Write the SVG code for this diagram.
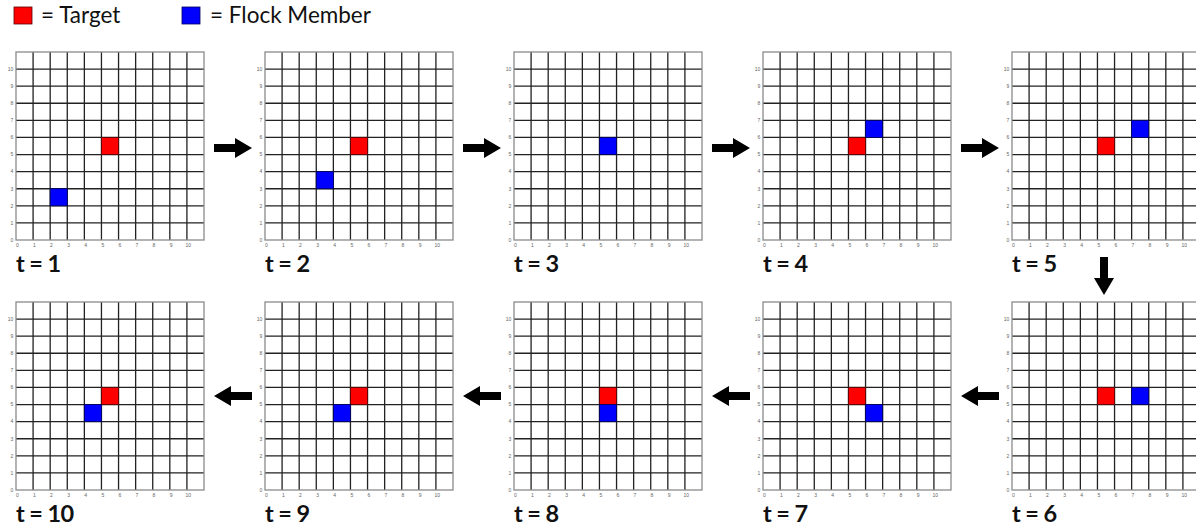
<svg xmlns="http://www.w3.org/2000/svg" xmlns:xlink="http://www.w3.org/1999/xlink" width="1196" height="526" viewBox="0 0 1196 526">
<style>
.inner{stroke:#222;stroke-width:1.3;fill:none}
.frame{stroke:#8a8a8a;stroke-width:1.3;fill:none}
.tick{font-family:"Liberation Sans",Arial,sans-serif;font-size:5px;fill:#666}
.ty{text-anchor:end}
.tx{text-anchor:middle}
.red{fill:#ff0000;stroke:#5a0000;stroke-width:0.8}
.blue{fill:#0000ff;stroke:#00005a;stroke-width:0.8}
.lbl{font-family:Lato,"Open Sans",sans-serif;font-weight:bold;font-size:23.5px;letter-spacing:-0.6px;fill:#111}
.leg{font-family:Lato,"Open Sans",sans-serif;font-size:22.5px;fill:#111}
.arrow{fill:#000}
</style>
<defs>
<g id="grid">
<rect x="0" y="0" width="188" height="188" fill="#fff"/>
<path class="inner" d="M17.09,0V188M34.18,0V188M51.27,0V188M68.36,0V188M85.45,0V188M102.55,0V188M119.64,0V188M136.73,0V188M153.82,0V188M170.91,0V188M0,17.09H188M0,34.18H188M0,51.27H188M0,68.36H188M0,85.45H188M0,102.55H188M0,119.64H188M0,136.73H188M0,153.82H188M0,170.91H188"/>
<rect class="frame" x="0" y="0" width="188" height="188"/>
<g class="tick ty">
<text x="-2.7" y="18.9">10</text><text x="-2.7" y="36">9</text><text x="-2.7" y="53.1">8</text><text x="-2.7" y="70.2">7</text><text x="-2.7" y="87.3">6</text><text x="-2.7" y="104.4">5</text><text x="-2.7" y="121.4">4</text><text x="-2.7" y="138.5">3</text><text x="-2.7" y="155.6">2</text><text x="-2.7" y="172.7">1</text><text x="-2.7" y="189.8">0</text>
</g>
<g class="tick tx">
<text x="1.3" y="194.5">0</text><text x="18.4" y="194.5">1</text><text x="35.5" y="194.5">2</text><text x="52.6" y="194.5">3</text><text x="69.7" y="194.5">4</text><text x="86.8" y="194.5">5</text><text x="103.9" y="194.5">6</text><text x="120.9" y="194.5">7</text><text x="138" y="194.5">8</text><text x="155.1" y="194.5">9</text><text x="172.2" y="194.5">10</text>
</g>
</g>
<path id="arrowR" d="M0,-4H21V-10L38,0L21,10V4H0Z"/>
</defs>
<rect width="1196" height="526" fill="#fff"/>
<g id="legend">
<rect class="red" x="14" y="7" width="18" height="17"/>
<text class="leg" x="41" y="22.5">= Target</text>
<rect class="blue" x="182" y="7" width="18" height="17"/>
<text class="leg" x="210" y="22.5">= Flock Member</text>
</g>
<g id="t1" transform="translate(16,52)">
<use xlink:href="#grid"/>
<rect class="red" x="85.45" y="85.45" width="17.09" height="17.09"/>
<rect class="blue" x="34.18" y="136.73" width="17.09" height="17.09"/>
<text class="lbl" x="0" y="220">t = 1</text>
</g>
<g id="t2" transform="translate(265,52)">
<use xlink:href="#grid"/>
<rect class="red" x="85.45" y="85.45" width="17.09" height="17.09"/>
<rect class="blue" x="51.27" y="119.64" width="17.09" height="17.09"/>
<text class="lbl" x="0" y="220">t = 2</text>
</g>
<g id="t3" transform="translate(514,52)">
<use xlink:href="#grid"/>
<rect class="blue" x="85.45" y="85.45" width="17.09" height="17.09"/>
<text class="lbl" x="0" y="220">t = 3</text>
</g>
<g id="t4" transform="translate(763,52)">
<use xlink:href="#grid"/>
<rect class="red" x="85.45" y="85.45" width="17.09" height="17.09"/>
<rect class="blue" x="102.55" y="68.36" width="17.09" height="17.09"/>
<text class="lbl" x="0" y="220">t = 4</text>
</g>
<g id="t5" transform="translate(1012,52)">
<use xlink:href="#grid"/>
<rect class="red" x="85.45" y="85.45" width="17.09" height="17.09"/>
<rect class="blue" x="119.64" y="68.36" width="17.09" height="17.09"/>
<text class="lbl" x="0" y="220">t = 5</text>
</g>
<g id="t6" transform="translate(1012,302)">
<use xlink:href="#grid"/>
<rect class="red" x="85.45" y="85.45" width="17.09" height="17.09"/>
<rect class="blue" x="119.64" y="85.45" width="17.09" height="17.09"/>
<text class="lbl" x="0" y="219.5">t = 6</text>
</g>
<g id="t7" transform="translate(763,302)">
<use xlink:href="#grid"/>
<rect class="red" x="85.45" y="85.45" width="17.09" height="17.09"/>
<rect class="blue" x="102.55" y="102.55" width="17.09" height="17.09"/>
<text class="lbl" x="0" y="219.5">t = 7</text>
</g>
<g id="t8" transform="translate(514,302)">
<use xlink:href="#grid"/>
<rect class="red" x="85.45" y="85.45" width="17.09" height="17.09"/>
<rect class="blue" x="85.45" y="102.55" width="17.09" height="17.09"/>
<text class="lbl" x="0" y="219.5">t = 8</text>
</g>
<g id="t9" transform="translate(265,302)">
<use xlink:href="#grid"/>
<rect class="red" x="85.45" y="85.45" width="17.09" height="17.09"/>
<rect class="blue" x="68.36" y="102.55" width="17.09" height="17.09"/>
<text class="lbl" x="0" y="219.5">t = 9</text>
</g>
<g id="t10" transform="translate(16,302)">
<use xlink:href="#grid"/>
<rect class="red" x="85.45" y="85.45" width="17.09" height="17.09"/>
<rect class="blue" x="68.36" y="102.55" width="17.09" height="17.09"/>
<text class="lbl" x="0" y="219.5">t = 10</text>
</g>
<g id="connectors" class="arrow">
<use xlink:href="#arrowR" transform="translate(214,148)"/>
<use xlink:href="#arrowR" transform="translate(463,148)"/>
<use xlink:href="#arrowR" transform="translate(712,148)"/>
<use xlink:href="#arrowR" transform="translate(961,148)"/>
<use xlink:href="#arrowR" transform="translate(1104,257) rotate(90)"/>
<use xlink:href="#arrowR" transform="translate(999,396) rotate(180)"/>
<use xlink:href="#arrowR" transform="translate(750,396) rotate(180)"/>
<use xlink:href="#arrowR" transform="translate(501,396) rotate(180)"/>
<use xlink:href="#arrowR" transform="translate(252,396) rotate(180)"/>
</g>
</svg>
